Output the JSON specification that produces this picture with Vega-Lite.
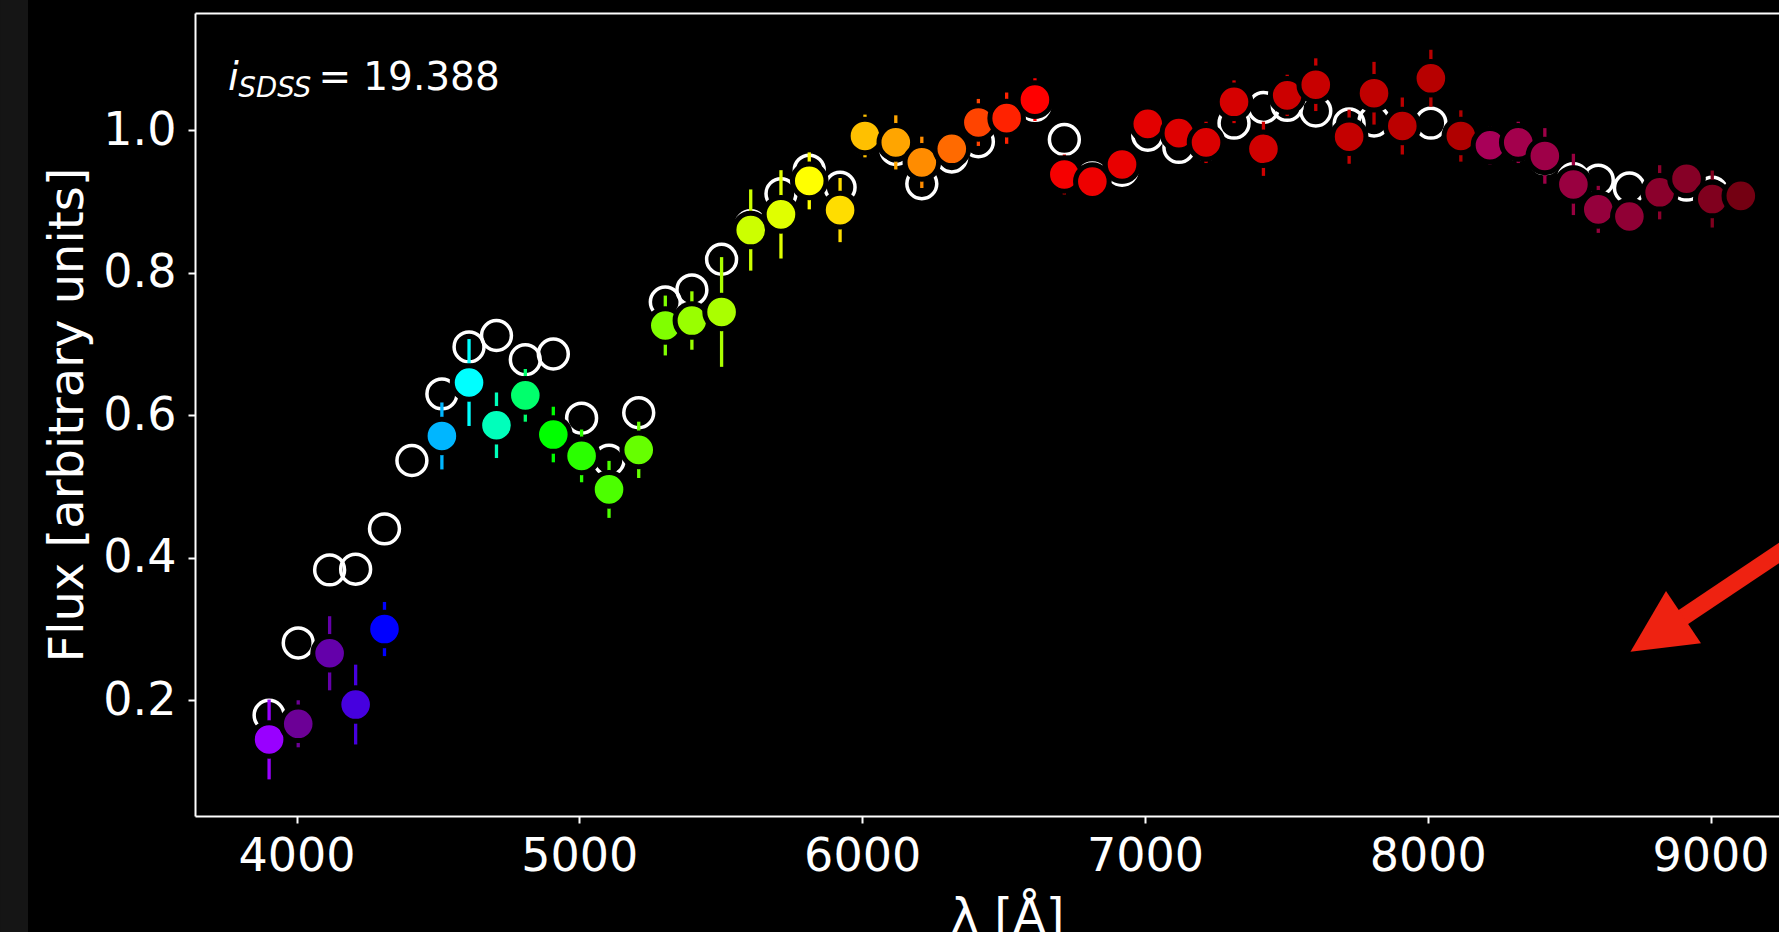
{
  "$schema": "https://vega.github.io/schema/vega-lite/v6.json",
  "autosize": {"type": "none"},
  "width": 1584,
  "height": 803,
  "padding": {"left": 195, "top": 13, "right": 0, "bottom": 116},
  "background": "black",
  "config": {"view": {"stroke": null}, "font": "DejaVu Sans"},
  "datasets": {
    "phot": [
      {"wl": 3903, "model": 0.179, "flux": 0.145, "lo": 0.089, "hi": 0.201, "color": "#9900FF"},
      {"wl": 4006, "model": 0.2805, "flux": 0.167, "lo": 0.134, "hi": 0.200, "color": "#6C0096"},
      {"wl": 4117, "model": 0.383, "flux": 0.266, "lo": 0.214, "hi": 0.318, "color": "#6400AA"},
      {"wl": 4209, "model": 0.384, "flux": 0.194, "lo": 0.138, "hi": 0.250, "color": "#4600DF"},
      {"wl": 4311, "model": 0.4406, "flux": 0.300, "lo": 0.262, "hi": 0.338, "color": "#0000FF"},
      {"wl": 4408, "model": 0.5365, "flux": null, "lo": null, "hi": null, "color": "#0060FF"},
      {"wl": 4514, "model": 0.630, "flux": 0.571, "lo": 0.524, "hi": 0.618, "color": "#00B6FF"},
      {"wl": 4610, "model": 0.696, "flux": 0.646, "lo": 0.585, "hi": 0.707, "color": "#00FFFF"},
      {"wl": 4707, "model": 0.712, "flux": 0.586, "lo": 0.540, "hi": 0.632, "color": "#00FFBB"},
      {"wl": 4809, "model": 0.678, "flux": 0.628, "lo": 0.591, "hi": 0.665, "color": "#00FF6C"},
      {"wl": 4908, "model": 0.686, "flux": 0.573, "lo": 0.534, "hi": 0.612, "color": "#00FF00"},
      {"wl": 5008, "model": 0.596, "flux": 0.543, "lo": 0.506, "hi": 0.580, "color": "#2AFF00"},
      {"wl": 5105, "model": 0.537, "flux": 0.496, "lo": 0.456, "hi": 0.536, "color": "#4CFF00"},
      {"wl": 5210, "model": 0.6035, "flux": 0.5515, "lo": 0.512, "hi": 0.591, "color": "#66FF00"},
      {"wl": 5304, "model": 0.759, "flux": 0.726, "lo": 0.684, "hi": 0.768, "color": "#80FF00"},
      {"wl": 5398, "model": 0.776, "flux": 0.733, "lo": 0.692, "hi": 0.774, "color": "#99FF00"},
      {"wl": 5503, "model": 0.819, "flux": 0.745, "lo": 0.668, "hi": 0.822, "color": "#AAFF00"},
      {"wl": 5606, "model": 0.866, "flux": 0.860, "lo": 0.803, "hi": 0.917, "color": "#CCFF00"},
      {"wl": 5713, "model": 0.911, "flux": 0.882, "lo": 0.820, "hi": 0.944, "color": "#E0FF00"},
      {"wl": 5813, "model": 0.944, "flux": 0.929, "lo": 0.889, "hi": 0.969, "color": "#FFFF00"},
      {"wl": 5922, "model": 0.920, "flux": 0.888, "lo": 0.843, "hi": 0.933, "color": "#FFDD00"},
      {"wl": 6010, "model": 0.989, "flux": 0.992, "lo": 0.962, "hi": 1.022, "color": "#FFC000"},
      {"wl": 6119, "model": 0.973, "flux": 0.983, "lo": 0.945, "hi": 1.021, "color": "#FFA500"},
      {"wl": 6211, "model": 0.925, "flux": 0.955, "lo": 0.919, "hi": 0.991, "color": "#FF8C00"},
      {"wl": 6317, "model": 0.9625, "flux": 0.974, "lo": 0.959, "hi": 0.989, "color": "#FF6A00"},
      {"wl": 6411, "model": 0.984, "flux": 1.011, "lo": 0.978, "hi": 1.044, "color": "#FF4400"},
      {"wl": 6511, "model": 1.015, "flux": 1.017, "lo": 0.981, "hi": 1.053, "color": "#FF2200"},
      {"wl": 6611, "model": 1.035, "flux": 1.043, "lo": 1.013, "hi": 1.073, "color": "#FF0000"},
      {"wl": 6715, "model": 0.987, "flux": 0.938, "lo": 0.910, "hi": 0.966, "color": "#F60000"},
      {"wl": 6814, "model": 0.933, "flux": 0.928, "lo": 0.913, "hi": 0.943, "color": "#EE0000"},
      {"wl": 6919, "model": 0.944, "flux": 0.952, "lo": 0.937, "hi": 0.967, "color": "#E80000"},
      {"wl": 7010, "model": 0.993, "flux": 1.009, "lo": 0.991, "hi": 1.027, "color": "#E30000"},
      {"wl": 7120, "model": 0.976, "flux": 0.996, "lo": 0.976, "hi": 1.016, "color": "#DE0000"},
      {"wl": 7216, "model": 0.980, "flux": 0.983, "lo": 0.954, "hi": 1.012, "color": "#DA0000"},
      {"wl": 7315, "model": 1.010, "flux": 1.040, "lo": 1.010, "hi": 1.070, "color": "#D50000"},
      {"wl": 7419, "model": 1.032, "flux": 0.974, "lo": 0.936, "hi": 1.012, "color": "#D00000"},
      {"wl": 7503, "model": 1.035, "flux": 1.049, "lo": 1.020, "hi": 1.078, "color": "#CC0000"},
      {"wl": 7604, "model": 1.027, "flux": 1.064, "lo": 1.027, "hi": 1.101, "color": "#C80000"},
      {"wl": 7722, "model": 1.009, "flux": 0.991, "lo": 0.953, "hi": 1.029, "color": "#C40000"},
      {"wl": 7810, "model": 1.013, "flux": 1.052, "lo": 1.008, "hi": 1.096, "color": "#C00000"},
      {"wl": 7910, "model": 1.005, "flux": 1.006, "lo": 0.966, "hi": 1.046, "color": "#BB0000"},
      {"wl": 8011, "model": 1.010, "flux": 1.073, "lo": 1.033, "hi": 1.113, "color": "#B70000"},
      {"wl": 8117, "model": 0.990, "flux": 0.992, "lo": 0.956, "hi": 1.028, "color": "#B00000"},
      {"wl": 8220, "model": 0.978, "flux": 0.979, "lo": 0.952, "hi": 1.006, "color": "#A80058"},
      {"wl": 8320, "model": 0.980, "flux": 0.983, "lo": 0.954, "hi": 1.012, "color": "#A3004C"},
      {"wl": 8414, "model": 0.960, "flux": 0.964, "lo": 0.925, "hi": 1.003, "color": "#9E0048"},
      {"wl": 8515, "model": 0.932, "flux": 0.924, "lo": 0.881, "hi": 0.967, "color": "#990040"},
      {"wl": 8603, "model": 0.930, "flux": 0.889, "lo": 0.856, "hi": 0.922, "color": "#95003C"},
      {"wl": 8713, "model": 0.919, "flux": 0.879, "lo": 0.864, "hi": 0.894, "color": "#900035"},
      {"wl": 8820, "model": 0.911, "flux": 0.913, "lo": 0.875, "hi": 0.951, "color": "#8B002C"},
      {"wl": 8915, "model": 0.923, "flux": 0.932, "lo": 0.917, "hi": 0.947, "color": "#860026"},
      {"wl": 9006, "model": 0.913, "flux": 0.9035, "lo": 0.8635, "hi": 0.9435, "color": "#80001E"},
      {"wl": 9107, "model": 0.910, "flux": 0.908, "lo": 0.893, "hi": 0.923, "color": "#740012"}
    ]
  },
  "resolve": {"axis": {"x": "independent", "y": "independent"}},
  "layer": [
    {
      "data": {"values": [{}]},
      "mark": {"type": "rect", "color": "#151515", "clip": false},
      "encoding": {
        "x": {"datum": 2951.5, "type": "quantitative", "axis": null},
        "x2": {"datum": 3050.5},
        "y": {"datum": 1.1828, "type": "quantitative", "axis": null},
        "y2": {"datum": -0.1252}
      }
    },
    {
      "data": {"name": "phot"},
      "mark": {"type": "point", "shape": "circle", "filled": false, "stroke": "white", "strokeWidth": 3.5, "size": 894, "opacity": 1},
      "encoding": {
        "x": {"field": "wl", "type": "quantitative", "scale": {"domain": [3641, 9242], "nice": false, "zero": false},
          "axis": {"orient": "bottom", "values": [4000, 5000, 6000, 7000, 8000, 9000], "format": "d", "grid": false,
            "labelFont": "DejaVu Sans", "labelFontSize": 46, "labelColor": "white", "labelBaseline": "alphabetic", "labelPadding": 47,
            "labelFlush": false, "labelOverlap": false,
            "tickSize": 7, "tickWidth": 2, "tickColor": "white", "domainColor": "white", "domainWidth": 2,
            "title": "λ [Å]", "titleFont": "DejaVu Sans", "titleFontSize": 48, "titleFontWeight": "normal", "titleColor": "white",
            "titleX": 812, "titleY": 116, "titleBaseline": "alphabetic", "titleAlign": "center"}},
        "y": {"field": "model", "type": "quantitative", "scale": {"domain": [0.0376, 1.1646], "nice": false, "zero": false},
          "axis": {"orient": "left", "values": [0.2, 0.4, 0.6, 0.8, 1.0], "format": ".1f", "grid": false,
            "labelFont": "DejaVu Sans", "labelFontSize": 46, "labelColor": "white", "labelPadding": 12,
            "labelFlush": false, "labelOverlap": false,
            "tickSize": 7, "tickWidth": 2, "tickColor": "white", "domainColor": "white", "domainWidth": 2,
            "title": "Flux [arbitrary units]", "titleFont": "DejaVu Sans", "titleFontSize": 48, "titleFontWeight": "normal", "titleColor": "white",
            "titleX": -113, "titleY": 401.5, "titleAngle": -90, "titleBaseline": "alphabetic", "titleAlign": "center"}}
      }
    },
    {
      "data": {"name": "phot"},
      "mark": {"type": "rule", "strokeWidth": 3.3},
      "encoding": {
        "x": {"field": "wl", "type": "quantitative", "axis": {"orient": "top", "labels": false, "ticks": false, "title": null, "grid": false, "domainColor": "white", "domainWidth": 2}},
        "y": {"field": "lo", "type": "quantitative", "axis": null},
        "y2": {"field": "hi"},
        "color": {"field": "color", "type": "nominal", "scale": null}
      }
    },
    {
      "data": {"name": "phot"},
      "mark": {"type": "point", "shape": "circle", "filled": true, "stroke": "black", "strokeWidth": 5, "size": 1129, "opacity": 1},
      "encoding": {
        "x": {"field": "wl", "type": "quantitative", "axis": null},
        "y": {"field": "flux", "type": "quantitative", "axis": null},
        "fill": {"field": "color", "type": "nominal", "scale": null}
      }
    },
    {
      "data": {"values": [{}]},
      "mark": {"type": "text", "text": "i", "fontStyle": "italic", "font": "DejaVu Sans", "fontSize": 39, "color": "white", "align": "left", "baseline": "alphabetic"},
      "encoding": {
        "x": {"datum": 3757.8, "type": "quantitative", "axis": null},
        "y": {"datum": 1.0565, "type": "quantitative", "axis": null}
      }
    },
    {
      "data": {"values": [{}]},
      "mark": {"type": "text", "text": "SDSS", "fontStyle": "italic", "font": "DejaVu Sans", "fontSize": 27.5, "color": "white", "align": "left", "baseline": "alphabetic"},
      "encoding": {
        "x": {"datum": 3795, "type": "quantitative", "axis": null},
        "y": {"datum": 1.047, "type": "quantitative", "axis": null}
      }
    },
    {
      "data": {"values": [{}]},
      "mark": {"type": "text", "text": "=", "font": "DejaVu Sans", "fontSize": 39, "color": "white", "align": "left", "baseline": "alphabetic"},
      "encoding": {
        "x": {"datum": 4078, "type": "quantitative", "axis": null},
        "y": {"datum": 1.0565, "type": "quantitative", "axis": null}
      }
    },
    {
      "data": {"values": [{}]},
      "mark": {"type": "text", "text": "19.388", "font": "DejaVu Sans", "fontSize": 39, "color": "white", "align": "left", "baseline": "alphabetic"},
      "encoding": {
        "x": {"datum": 4236, "type": "quantitative", "axis": null},
        "y": {"datum": 1.0565, "type": "quantitative", "axis": null}
      }
    },
    {
      "data": {"values": [{}]},
      "mark": {"type": "rule", "color": "#EE2211", "strokeWidth": 17, "strokeCap": "butt"},
      "encoding": {
        "x": {"datum": 8856.6, "type": "quantitative", "axis": null},
        "y": {"datum": 0.3043, "type": "quantitative", "axis": null},
        "x2": {"datum": 9300},
        "y2": {"datum": 0.4220}
      }
    },
    {
      "data": {"values": [{}]},
      "mark": {"type": "point", "shape": "M -0.883 0.578 L 0.005 -0.943 L 0.88 0.365 Z", "filled": true, "fill": "#EE2211", "stroke": null, "size": 6400, "opacity": 1},
      "encoding": {
        "x": {"datum": 8841.7, "type": "quantitative", "axis": null},
        "y": {"datum": 0.3005, "type": "quantitative", "axis": null}
      }
    }
  ]
}
